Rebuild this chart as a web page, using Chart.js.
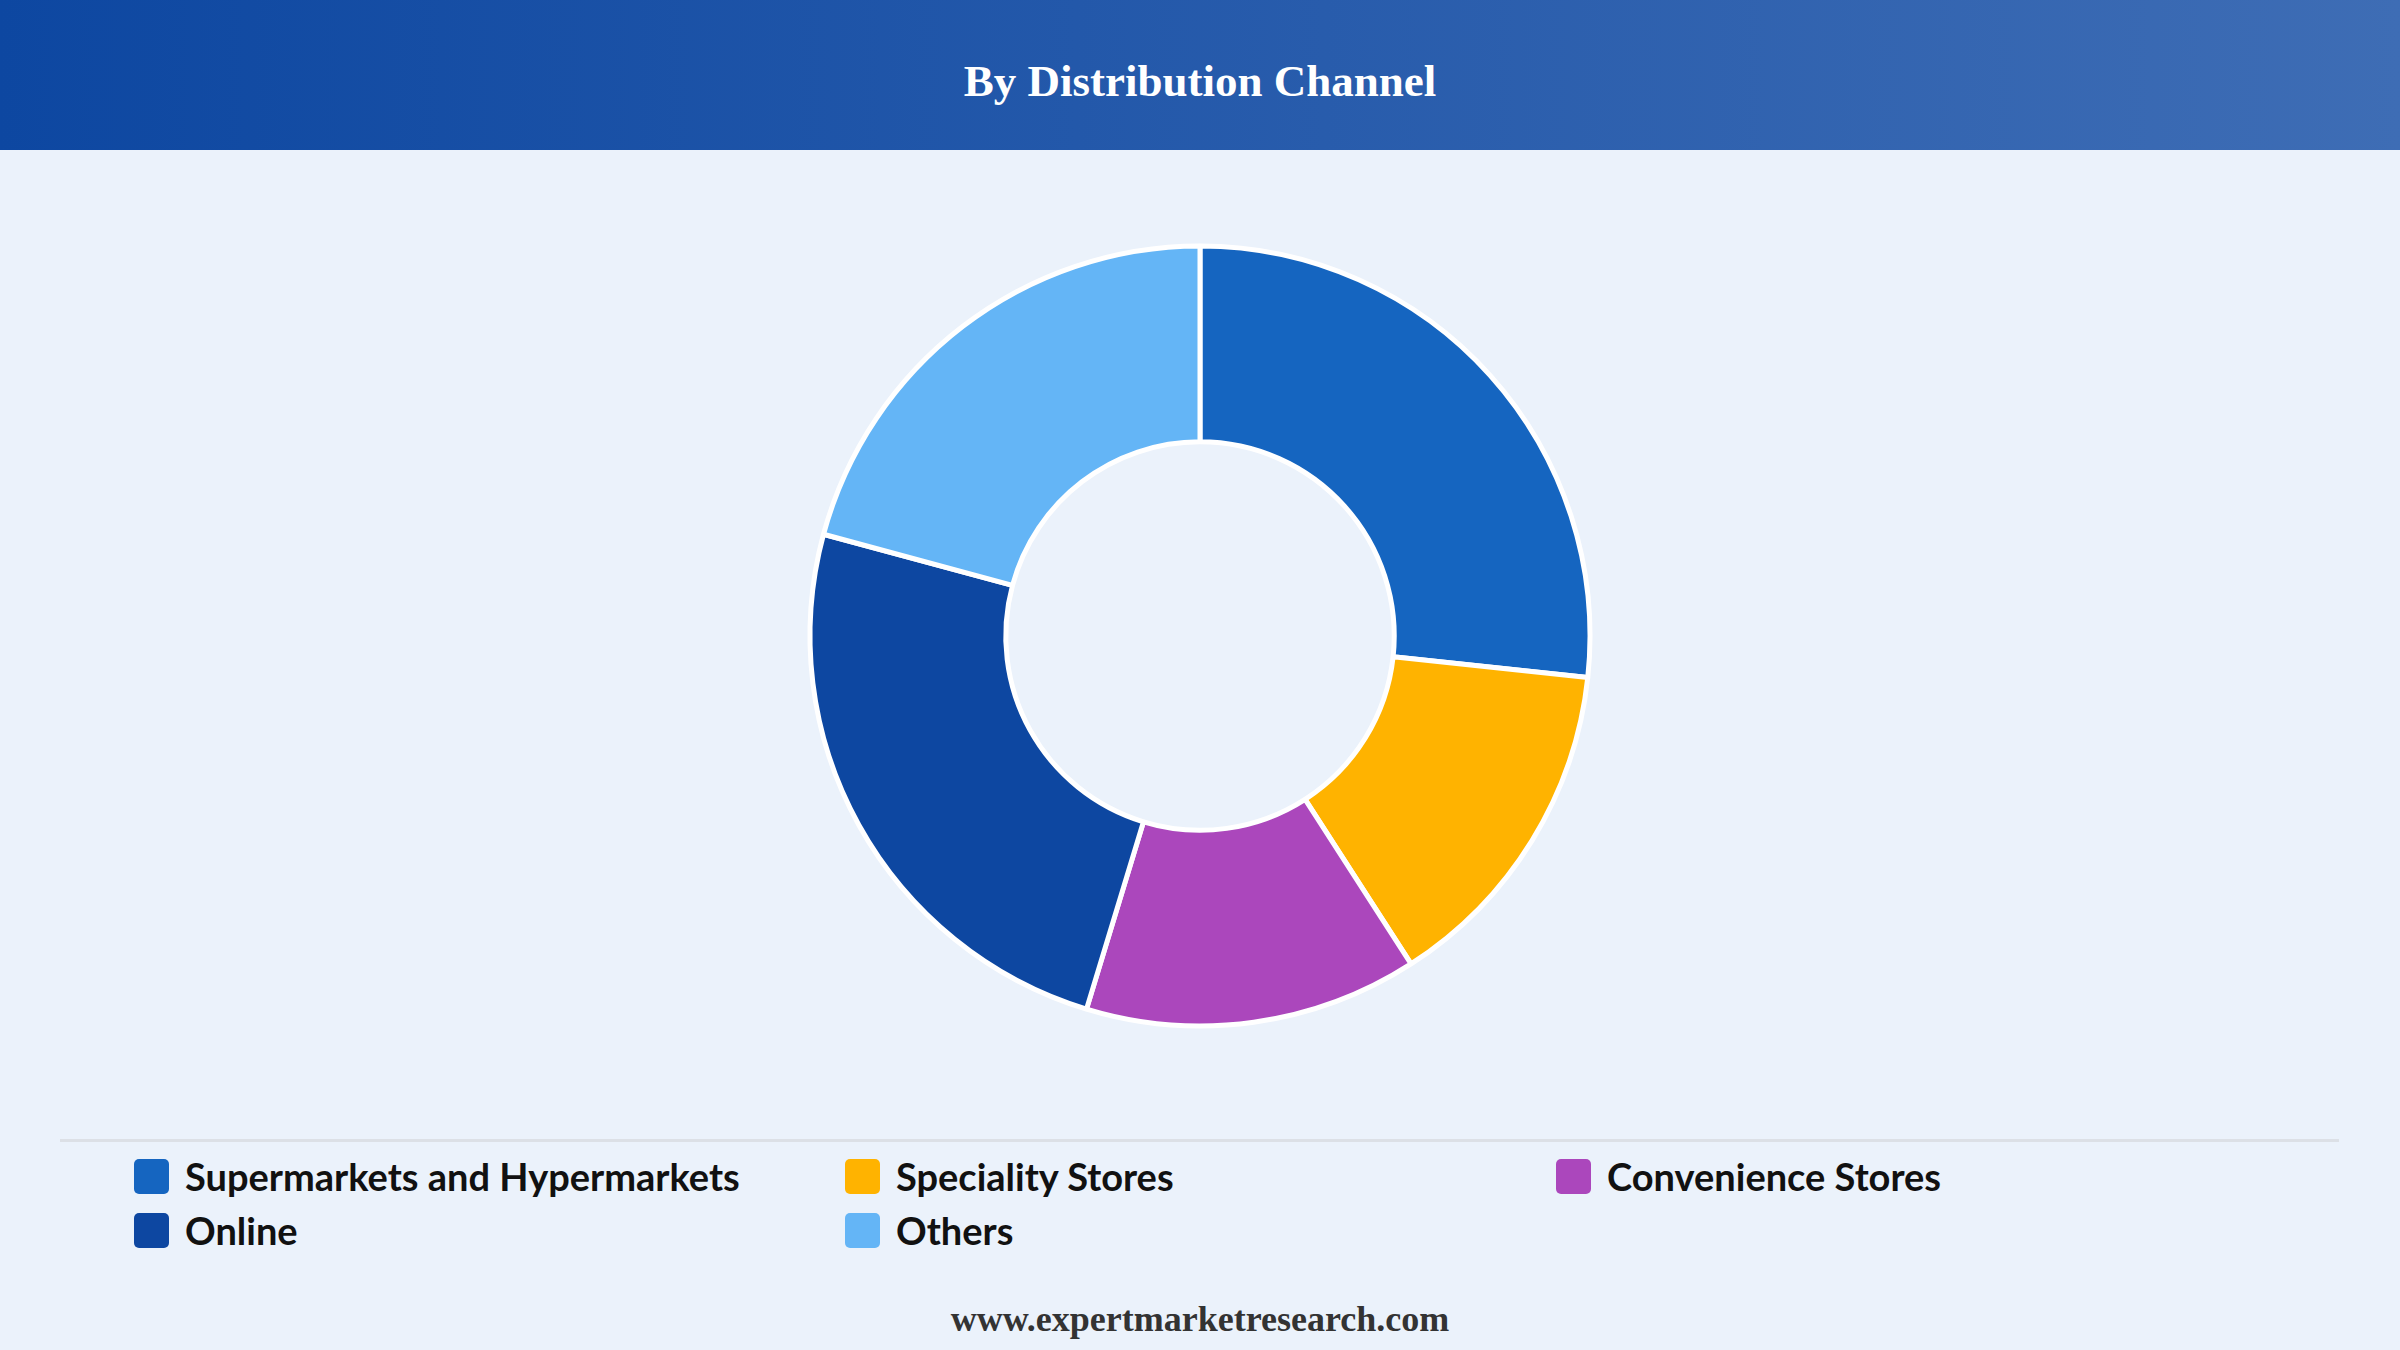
<!DOCTYPE html>
<html>
<head>
<meta charset="utf-8">
<script src="https://cdn.jsdelivr.net/npm/chart.js@4.4.1/dist/chart.umd.min.js"></script>
<style>
  html, body { margin: 0; padding: 0; }
  body { width: 2400px; height: 1350px; background: #EBF2FB; position: relative; overflow: hidden; }
  #header { position: absolute; left: 0; top: 0; width: 2400px; height: 150px;
    background: linear-gradient(90deg, #0D47A1 0%, #3E6DB5 100%); }
  #title { position: absolute; left: 0; width: 2400px; top: 0; height: 150px; line-height: 162px;
    text-align: center; color: #fff; font-family: "Liberation Serif", "Times New Roman", serif;
    font-weight: bold; font-size: 45px; }
  #chartBox { position: absolute; left: 0; top: 151px; width: 2400px; height: 970px; }
  #sep { position: absolute; left: 60px; width: 2279px; top: 1139px; height: 3px; background: #DCE0E6; }
  #legend { position: absolute; left: 134px; top: 1158px; width: 2200px; }
  .item { position: absolute; height: 36px; display: flex; align-items: center; white-space: nowrap; }
  .box { width: 35px; height: 35px; border-radius: 5px; margin-right: 16px; flex: none; }
  .lbl { font-family: Lato, "Noto Sans", sans-serif; font-weight: 700; font-size: 38px; color: #111; }
  #footer { position: absolute; left: 0; width: 2400px; top: 1295px; height: 48px; line-height: 48px;
    text-align: center; color: #333; font-family: "Liberation Serif", "Times New Roman", serif;
    font-weight: bold; font-size: 36px; }
</style>
</head>
<body>
<div id="header"><div id="title">By Distribution Channel</div></div>
<div id="chartBox"><canvas id="c"></canvas></div>
<div id="sep"></div>
<div id="legend"></div>
<div id="footer">www.expertmarketresearch.com</div>
<script>
const categories = ["Supermarkets and Hypermarkets", "Speciality Stores", "Convenience Stores", "Online", "Others"];
const shares = [26.7, 14.2, 13.8, 24.5, 20.8];
const colors = ["#1565C0", "#FFB300", "#AB47BC", "#0D47A1", "#64B5F6"];

// HTML legend built from the arrays (3 columns)
const legend = document.getElementById('legend');
categories.forEach((name, i) => {
  const col = i % 3, row = Math.floor(i / 3);
  const el = document.createElement('div');
  el.className = 'item';
  el.style.left = (col * 711) + 'px';
  el.style.top = (row * 54) + 'px';
  el.innerHTML = '<div class="box" style="background:' + colors[i] + '"></div><span class="lbl">' + name + '</span>';
  legend.appendChild(el);
});

new Chart(document.getElementById('c'), {
  type: 'doughnut',
  data: {
    labels: categories,
    datasets: [{
      data: shares,
      backgroundColor: colors,
      borderColor: '#FFFFFF',
      borderWidth: 5,
      hoverOffset: 0
    }]
  },
  options: {
    responsive: true,
    maintainAspectRatio: false,
    devicePixelRatio: 1,
    animation: false,
    radius: 390,
    cutout: '49.8%',
    layout: { padding: 0 },
    plugins: { legend: { display: false }, tooltip: { enabled: false }, title: { display: false } }
  }
});
</script>
</body>
</html>
